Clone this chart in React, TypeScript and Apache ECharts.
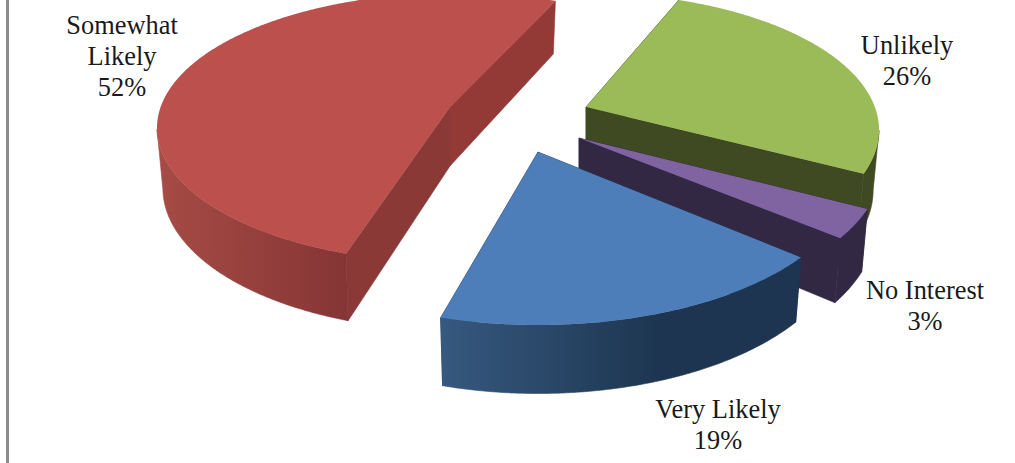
import React, { useEffect, useRef } from "react";
import * as echarts from "echarts";

// Survey shares, listed clockwise from the slice boundary at START_ANGLE.
const categories = ["Unlikely", "No Interest", "Very Likely", "Somewhat Likely"];
const shares = [26, 3, 19, 52];
const labelLines = [["Unlikely"], ["No Interest"], ["Very Likely"], ["Somewhat", "Likely"]];

const START_ANGLE = 29;

// Exploded position and projected ellipse of each slice.
const placements = [
  { ax: 586, ay: 107, rx: 293, ry: 137, ex: 0, sh: 23, c: -0.124, d: 0.57 },
  { ax: 579, ay: 138, rx: 304, ry: 149, ex: 0, sh: 24, c: -0.04, d: 0.448 },
  { ax: 538, ay: 152, rx: 314, ry: 149, ex: 0, sh: 24, c: -0.176, d: 0.61 },
  { ax: 450, ay: 107, rx: 298, ry: 135, ex: 5, sh: 21, c: 0.04, d: 0.58 },
];
const topColors = ["#9bbb59", "#8064a2", "#4d7eb9", "#bc504c"];
const startWallColors = ["#3f4a22", "#322843", "#1d3550", "#8a3937"];
const endWallColors = ["#3f4a22", "#322843", "#1d3550", "#933a37"];
const outerStops = [
  ["#3f4a22", "#3f4a22"],
  ["#322843", "#322843"],
  ["#36597f", "#1d3550"],
  ["#a64b45", "#853535"],
];
const outerRanges = [
  [800, 880],
  [800, 880],
  [441, 660],
  [160, 347],
];
const labelAnchors = [
  { x: 907, y: 29 },
  { x: 925, y: 274 },
  { x: 718, y: 393 },
  { x: 122, y: 9 },
];

const LINE_HEIGHT = 31;

function edgePoint(i: number, deg: number) {
  const p = placements[i];
  const t = (deg * Math.PI) / 180;
  const u = Math.sin(t);
  const v = Math.cos(t);
  const dx = u;
  const dy = p.c * u - p.d * v;
  const xx = 1 / (p.rx * p.rx);
  const yy = 1 / (p.ry * p.ry);
  const a = dx * dx * xx + dy * dy * yy;
  const b = -2 * (dx * p.ex * xx + dy * p.sh * yy);
  const c = p.ex * p.ex * xx + p.sh * p.sh * yy - 1;
  const s = (-b + Math.sqrt(b * b - 4 * a * c)) / (2 * a);
  return [s * dx, s * dy];
}

// Offsets are relative to the apex; the lower rim sits slightly narrower and
// drops further toward the viewer.
const topPoint = (i: number, o: number[]) => [placements[i].ax + o[0], placements[i].ay + o[1]];
const bottomPoint = (i: number, o: number[]) => [
  placements[i].ax + o[0] * 0.98,
  placements[i].ay + o[1] + 59 + 0.055 * o[1],
];

function renderSlice(params: any, api: any) {
  const i = params.dataIndex;
  const total = shares.reduce((acc, s) => acc + s, 0);
  const before = shares.slice(0, i).reduce((acc, s) => acc + s, 0);
  const from = START_ANGLE + (before / total) * 360;
  const span = (api.value(0) / total) * 360;
  const to = from + span;

  const rim: number[][] = [];
  const steps = Math.ceil(span * 2);
  for (let k = 0; k <= steps; k++) rim.push(edgePoint(i, from + (span * k) / steps));
  // Only the near half of the rim shows a wall.
  const nearRim = rim.filter((o) => o[1] >= placements[i].sh);

  const apexTop = topPoint(i, [0, 0]);
  const apexBottom = bottomPoint(i, [0, 0]);
  const first = edgePoint(i, from);
  const last = edgePoint(i, to);
  const [g0, g1] = outerRanges[i];
  const outerFill = new echarts.graphic.LinearGradient(
    g0, 0, g1, 0,
    [
      { offset: 0, color: outerStops[i][0] },
      { offset: 1, color: outerStops[i][1] },
    ],
    true
  );

  const children = [
    {
      type: "polygon",
      shape: { points: [apexTop, topPoint(i, first), bottomPoint(i, first), apexBottom] },
      style: { fill: startWallColors[i], stroke: startWallColors[i], lineWidth: 0.6 },
    },
    {
      type: "polygon",
      shape: { points: [apexTop, topPoint(i, last), bottomPoint(i, last), apexBottom] },
      style: { fill: endWallColors[i], stroke: endWallColors[i], lineWidth: 0.6 },
    },
    {
      type: "polygon",
      shape: {
        points: [
          ...nearRim.map((o) => topPoint(i, o)),
          ...nearRim.slice().reverse().map((o) => bottomPoint(i, o)),
        ],
      },
      style: { fill: outerFill, stroke: outerFill, lineWidth: 0.6 },
    },
    {
      type: "polygon",
      shape: { points: [apexTop, ...rim.map((o) => topPoint(i, o))] },
      style: { fill: topColors[i] },
    },
  ];
  return { type: "group", children };
}

export default function App() {
  const ref = useRef<HTMLDivElement>(null);
  useEffect(() => {
    const chart = echarts.init(ref.current!, null, { renderer: "svg" });
    chart.setOption({
      animation: false,
      backgroundColor: "#ffffff",
      series: [
        {
          type: "custom",
          coordinateSystem: "none",
          silent: true,
          renderItem: renderSlice,
          data: categories.map((name, i) => ({ name, value: [shares[i]] })),
        },
      ],
      graphic: [
        {
          type: "rect",
          silent: true,
          shape: { x: 6, y: 0, width: 3, height: 463 },
          style: { fill: "#8c8c8c" },
        },
        ...categories.map((_, i) => ({
          type: "text",
          silent: true,
          x: labelAnchors[i].x,
          y: labelAnchors[i].y,
          style: {
            text: [...labelLines[i], `${shares[i]}%`].join("\n"),
            font: '26.4px "Liberation Serif"',
            lineHeight: LINE_HEIGHT,
            fill: "#1a1a1a",
            align: "center",
            verticalAlign: "top",
          },
        })),
      ],
    });
    return () => chart.dispose();
  }, []);
  return <div ref={ref} style={{ position: "fixed", left: 0, top: 0, width: 1015, height: 463 }} />;
}
